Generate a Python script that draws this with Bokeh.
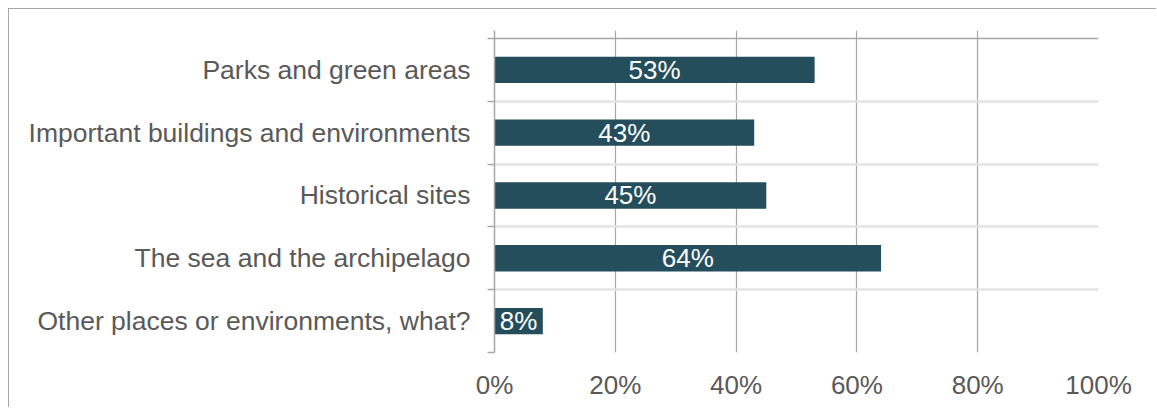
import numpy as np
from bokeh.plotting import figure
from bokeh.models import FixedTicker, PrintfTickFormatter, Span, ColumnDataSource, Range1d
from bokeh.core.properties import value
from bokeh.embed import file_html
from bokeh.resources import INLINE

categories = [
    "Parks and green areas",
    "Important buildings and environments",
    "Historical sites",
    "The sea and the archipelago",
    "Other places or environments, what?",
]
values = [53, 43, 45, 64, 8]
x_ticks = [0, 20, 40, 60, 80, 100]

n = len(categories)
ypos = [n - 1 - i + 0.5 for i in range(n)]
src = ColumnDataSource(dict(
    y=ypos,
    v=values,
    mid=[v / 2 for v in values],
    lab=[f"{v}%" for v in values],
))

FONT = "Liberation Sans"
GRAY_TXT = "#595959"

p = figure(
    width=1148, height=399,
    output_backend="svg", toolbar_location=None,
    x_range=Range1d(0, 100), y_range=Range1d(0, n + 0.127),
    min_border_left=485, min_border_right=59,
    min_border_top=21, min_border_bottom=56,
)
p.styles = {
    "margin-left": "8px", "margin-top": "8px",
    "border-left": "1px solid #a6a6a6", "border-top": "1px solid #a6a6a6",
}
p.outline_line_color = None
p.background_fill_color = "white"
p.border_fill_color = "white"

p.hbar(y="y", right="v", left=0, height=0.42, source=src,
       fill_color="#244e5b", line_color=None)
p.text(x="mid", y="y", text="lab", source=src,
       text_align="center", text_baseline="middle",
       text_font=value(FONT), text_font_size="26px", text_color="white")

# x axis
p.xaxis.ticker = FixedTicker(ticks=x_ticks)
p.xaxis.formatter = PrintfTickFormatter(format="%d%%")
p.xaxis.axis_line_color = None
p.xaxis.major_tick_line_color = None
p.xaxis.minor_tick_line_color = None
p.xaxis.major_tick_out = 0
p.xaxis.major_tick_in = 0
p.xaxis.major_label_standoff = 17
p.xaxis.major_label_text_font = FONT
p.xaxis.major_label_text_font_size = "26px"
p.xaxis.major_label_text_color = GRAY_TXT

# y axis: labels at band centres, small ticks at band boundaries
p.yaxis.ticker = FixedTicker(ticks=ypos, minor_ticks=list(range(n + 1)))
p.yaxis.major_label_overrides = {y: c for y, c in zip(ypos, categories)}
p.yaxis.major_tick_line_color = None
p.yaxis.major_tick_out = 0
p.yaxis.major_tick_in = 0
p.yaxis.minor_tick_out = 7
p.yaxis.minor_tick_in = 0
p.yaxis.minor_tick_line_color = "#a6a6a6"
p.yaxis.minor_tick_line_width = 1.5
p.yaxis.axis_line_color = "#a6a6a6"
p.yaxis.axis_line_width = 1.5
p.yaxis.major_label_standoff = 17
p.yaxis.major_label_text_font = FONT
p.yaxis.major_label_text_font_size = "26.5px"
p.yaxis.major_label_text_color = GRAY_TXT

# grids
p.xgrid.ticker = FixedTicker(ticks=x_ticks)
p.xgrid.grid_line_color = "#a6a6a6"
p.xgrid.grid_line_width = 1.2
p.ygrid.ticker = FixedTicker(ticks=list(range(n)))
p.ygrid.grid_line_color = "#e4e4e4"
p.ygrid.grid_line_width = 2.5

p.add_layout(Span(location=n, dimension="width", line_color="#a6a6a6", line_width=1.5))

open("out.html", "w").write(file_html(p, INLINE))
